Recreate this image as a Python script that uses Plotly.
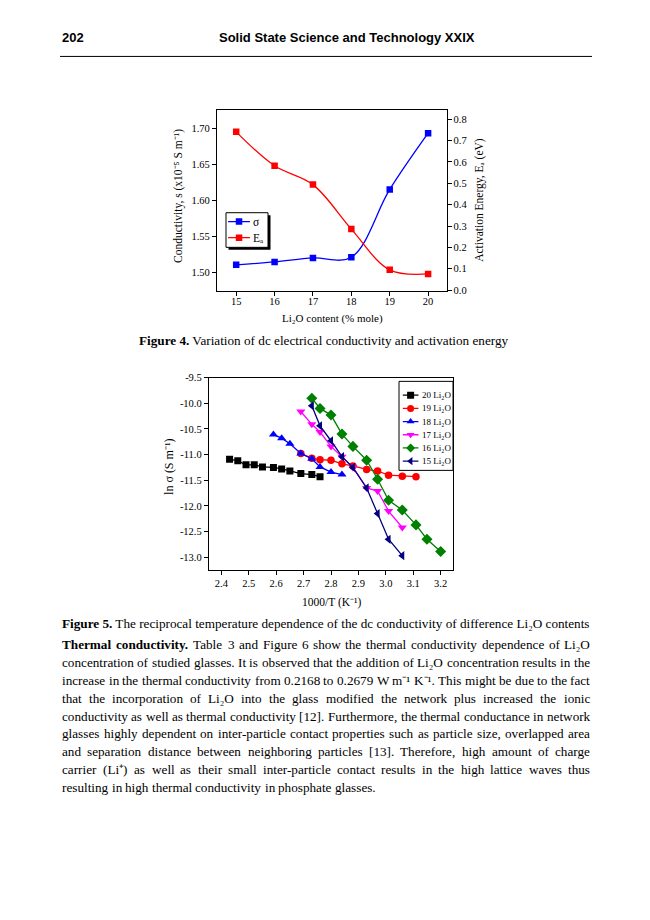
import re
import plotly.graph_objects as go

W, H = 650, 920

# ---------------- Figure 4 data ----------------
li2o_mole = [15, 16, 17, 18, 19, 20]
sigma_dc = [1.511, 1.515, 1.5205, 1.5215, 1.6155, 1.6935]      # x10^-5 S m^-1
act_energy = [0.741, 0.582, 0.494, 0.286, 0.095, 0.076]         # eV
fig4_x_ticks = [15, 16, 17, 18, 19, 20]
fig4_sigma_ticks = [1.50, 1.55, 1.60, 1.65, 1.70]
fig4_ea_ticks = [0.0, 0.1, 0.2, 0.3, 0.4, 0.5, 0.6, 0.7, 0.8]
fig4_legend = ["σ", "Eₐ"]

# ---------------- Figure 5 data ----------------
series_names = ["20 Li₂O", "19 Li₂O", "18 Li₂O", "17 Li₂O", "16 Li₂O", "15 Li₂O"]
inv_T_20 = [2.43, 2.46, 2.49, 2.52, 2.55, 2.59, 2.62, 2.65, 2.69, 2.73, 2.76]
ln_sig_20 = [-11.09, -11.12, -11.20, -11.20, -11.24, -11.25, -11.28, -11.32, -11.37, -11.39, -11.43]
inv_T_19 = [2.69, 2.73, 2.76, 2.80, 2.84, 2.88, 2.93, 2.97, 3.01, 3.06, 3.11]
ln_sig_19 = [-10.98, -11.07, -11.10, -11.11, -11.18, -11.22, -11.29, -11.32, -11.40, -11.42, -11.43]
inv_T_18 = [2.59, 2.62, 2.65, 2.69, 2.73, 2.76, 2.80, 2.84]
ln_sig_18 = [-10.61, -10.68, -10.79, -10.98, -11.08, -11.24, -11.34, -11.39]
inv_T_17 = [2.69, 2.73, 2.76, 2.80, 2.84, 2.88, 2.93, 2.97, 3.01, 3.06]
ln_sig_17 = [-10.16, -10.41, -10.56, -10.84, -11.04, -11.25, -11.65, -11.71, -12.10, -12.42]
inv_T_16 = [2.73, 2.76, 2.80, 2.84, 2.88, 2.93, 2.97, 3.01, 3.06, 3.11, 3.15, 3.20]
ln_sig_16 = [-9.90, -10.10, -10.23, -10.60, -10.84, -11.11, -11.48, -11.89, -12.08, -12.37, -12.65, -12.89]
inv_T_15 = [2.73, 2.76, 2.80, 2.84, 2.88, 2.93, 2.97, 3.01, 3.06]
ln_sig_15 = [-10.05, -10.44, -10.73, -11.04, -11.25, -11.65, -12.15, -12.65, -12.97]
fig5_x_ticks = [2.4, 2.5, 2.6, 2.7, 2.8, 2.9, 3.0, 3.1, 3.2]
fig5_y_ticks = [-13.0, -12.5, -12.0, -11.5, -11.0, -10.5, -10.0, -9.5]

# ---------------- page text ----------------
header_page = "202"
header_title = "Solid State Science and Technology XXIX"
caption4 = "<b>Figure 4.</b> Variation of dc electrical conductivity and activation energy"
caption5 = ("<b>Figure 5.</b> The reciprocal temperature dependence of the dc conductivity "
            "of difference Li₂O contents")
body_lines = [
    "<b>Thermal</b> <b>conductivity.</b> Table 3 and Figure 6 show the thermal conductivity dependence of Li₂O",
    "concentration of studied glasses. It is observed that the addition of Li₂O concentration results in the",
    "increase in the thermal conductivity from 0.2168 to 0.2679 W m⁻¹ K⁻¹. This might be due to the fact",
    "that the incorporation of Li₂O into the glass modified the network plus increased the ionic",
    "conductivity as well as thermal conductivity [12]. Furthermore, the thermal conductance in network",
    "glasses highly dependent on inter-particle contact properties such as particle size, overlapped area",
    "and separation distance between neighboring particles [13]. Therefore, high amount of charge",
    "carrier (Li⁺) as well as their small inter-particle contact results in the high lattice waves thus",
    "resulting in high thermal conductivity in phosphate glasses.",
]

# ---------------- styles ----------------
SERIF = "Liberation Serif, Times New Roman, serif"
SANS = "Liberation Sans, Arial, sans-serif"
BLUE, RED = "#0000FF", "#FF0000"
fig5_colors = ["#000000", "#FF0000", "#0000FF", "#FF00FF", "#008000", "#000080"]
fig5_symbols = ["square", "circle", "triangle-up", "triangle-down", "diamond", "triangle-left"]
fig5_sizes = [7, 7.5, 8, 8, 8.5, 8]


def px(x):
    return x / W


def py(y):
    return 1 - y / H


TR = {' ': 250, 'a': 444, 'b': 500, 'c': 444, 'd': 500, 'e': 444, 'f': 333, 'g': 500, 'h': 500,
      'i': 278, 'j': 278, 'k': 500, 'l': 278, 'm': 778, 'n': 500, 'o': 500, 'p': 500, 'q': 500,
      'r': 333, 's': 389, 't': 278, 'u': 500, 'v': 500, 'w': 722, 'x': 500, 'y': 500, 'z': 444,
      'A': 722, 'B': 667, 'C': 667, 'D': 722, 'E': 611, 'F': 556, 'G': 722, 'H': 722, 'I': 333,
      'J': 389, 'K': 722, 'L': 611, 'M': 889, 'N': 722, 'O': 722, 'P': 556, 'Q': 722, 'R': 667,
      'S': 556, 'T': 611, 'U': 722, 'V': 722, 'W': 944, 'X': 722, 'Y': 722, 'Z': 611,
      '.': 250, ',': 250, '-': 333, '(': 333, ')': 333, '[': 333, ']': 333, '+': 564, '%': 833,
      '/': 278, ':': 278, ';': 278, '₂': 350, '⁻': 300, '¹': 300, '⁺': 390}
TB = {' ': 250, 'a': 500, 'b': 556, 'c': 444, 'd': 556, 'e': 444, 'f': 333, 'g': 500, 'h': 556,
      'i': 278, 'j': 333, 'k': 556, 'l': 278, 'm': 833, 'n': 556, 'o': 500, 'p': 556, 'q': 556,
      'r': 444, 's': 389, 't': 333, 'u': 556, 'v': 500, 'w': 722, 'x': 500, 'y': 500, 'z': 444,
      'T': 667, 'F': 611, '.': 250}


def text_width(s, size):
    total, bold = 0.0, False
    for tok in re.split(r'(<[^>]+>)', s):
        if not tok:
            continue
        if tok.startswith('<'):
            t = tok.lower()
            if t == '<b>':
                bold = True
            elif t == '</b>':
                bold = False
            continue
        table = TB if bold else TR
        for ch in tok:
            total += table.get(ch, 500)
    return total * size / 1000.0


fig = go.Figure()

# ---------------- Figure 4 traces ----------------
fig.add_trace(go.Scatter(x=li2o_mole, y=sigma_dc, mode="lines+markers", xaxis="x", yaxis="y",
                         line=dict(color=BLUE, width=1.3, shape="spline"),
                         marker=dict(symbol="square", size=6.5, color=BLUE), showlegend=False))
fig.add_trace(go.Scatter(x=li2o_mole, y=act_energy, mode="lines+markers", xaxis="x", yaxis="y2",
                         line=dict(color=RED, width=1.3, shape="spline"),
                         marker=dict(symbol="square", size=6.5, color=RED), showlegend=False))

# ---------------- Figure 5 traces ----------------
fig5_x = [inv_T_20, inv_T_19, inv_T_18, inv_T_17, inv_T_16, inv_T_15]
fig5_y = [ln_sig_20, ln_sig_19, ln_sig_18, ln_sig_17, ln_sig_16, ln_sig_15]
for xs, ys, c, s, sz in zip(fig5_x, fig5_y, fig5_colors, fig5_symbols, fig5_sizes):
    fig.add_trace(go.Scatter(x=xs, y=ys, mode="lines+markers", xaxis="x3", yaxis="y3",
                             line=dict(color=c, width=1.3),
                             marker=dict(symbol=s, size=sz, color=c), showlegend=False))

# ---------------- hand-made legends (keys on hidden axes) ----------------
shapes = []
annotations = []

# legend of figure 4
L4 = dict(x0=226, x1=268, y0=210, y1=245)
shapes.append(dict(type="rect", xref="paper", yref="paper", layer="below",
                   x0=px(L4["x0"] + 2.5), x1=px(L4["x1"] + 2.5), y0=py(L4["y1"] + 2.5), y1=py(L4["y0"] + 2.5),
                   fillcolor="black", line=dict(width=0)))
shapes.append(dict(type="rect", xref="paper", yref="paper", layer="below",
                   x0=px(L4["x0"]), x1=px(L4["x1"]), y0=py(L4["y1"]), y1=py(L4["y0"]),
                   fillcolor="white", line=dict(color="black", width=1)))
for i, (name, c) in enumerate(zip(fig4_legend, [BLUE, RED])):
    fig.add_trace(go.Scatter(x=[0.05, 0.57], y=[i, i], mode="lines", xaxis="x4", yaxis="y4",
                             line=dict(color=c, width=1.3), showlegend=False, hoverinfo="skip"))
    fig.add_trace(go.Scatter(x=[0.31], y=[i], mode="markers", xaxis="x4", yaxis="y4",
                             marker=dict(symbol="square", size=6.5, color=c), showlegend=False, hoverinfo="skip"))
    annotations.append(dict(x=0.63, y=i, xref="x4", yref="y4", text=name, showarrow=False,
                            xanchor="left", yanchor="middle", borderpad=0,
                            font=dict(family=SERIF, size=11.5, color="black")))

# legend of figure 5
L5 = dict(x0=399, x1=453, y0=380.5, y1=470.5)
shapes.append(dict(type="rect", xref="paper", yref="paper", layer="below",
                   x0=px(L5["x0"]), x1=px(L5["x1"]), y0=py(L5["y1"]), y1=py(L5["y0"]),
                   fillcolor="white", line=dict(color="black", width=1)))
for i, (name, c, s) in enumerate(zip(series_names, fig5_colors, fig5_symbols)):
    fig.add_trace(go.Scatter(x=[0.07, 0.36], y=[i, i], mode="lines", xaxis="x5", yaxis="y5",
                             line=dict(color=c, width=1.3), showlegend=False, hoverinfo="skip"))
    fig.add_trace(go.Scatter(x=[0.215], y=[i], mode="markers", xaxis="x5", yaxis="y5",
                             marker=dict(symbol=s, size=7, color=c), showlegend=False, hoverinfo="skip"))
    annotations.append(dict(x=0.41, y=i, xref="x5", yref="y5", text=name, showarrow=False,
                            xanchor="left", yanchor="middle", borderpad=0,
                            font=dict(family=SERIF, size=9, color="black")))

# ---------------- axes ----------------
tick_font = dict(family=SERIF, size=10.5, color="black")
common = dict(showgrid=False, zeroline=False, showline=True, linecolor="black", linewidth=1.3,
              ticks="outside", ticklen=4, tickwidth=1.2, tickcolor="black", tickfont=tick_font)

hidden = dict(visible=False, fixedrange=True, showgrid=False, zeroline=False)

fig.update_layout(
    width=W, height=H, autosize=False,
    margin=dict(l=0, r=0, t=0, b=0),
    paper_bgcolor="white", plot_bgcolor="rgba(0,0,0,0)",
    showlegend=False,
    xaxis=dict(domain=[px(217), px(447.3)], range=[14.5, 20.5], anchor="y", mirror=True,
               tickvals=fig4_x_ticks, ticktext=[str(v) for v in fig4_x_ticks],
               ticklabelstandoff=-4, **common),
    yaxis=dict(domain=[py(289.3), py(106.3)], range=[1.4745, 1.7254], anchor="x",
               tickvals=fig4_sigma_ticks, ticktext=["%.2f" % v for v in fig4_sigma_ticks], **common),
    yaxis2=dict(overlaying="y", side="right", anchor="x", range=[-0.0046, 0.8426],
                tickvals=fig4_ea_ticks, ticktext=["%.1f" % v for v in fig4_ea_ticks],
                ticklabelstandoff=-1, **common),
    xaxis3=dict(domain=[px(209), px(453)], range=[2.355, 3.245], anchor="y3", mirror=True,
                tickvals=fig5_x_ticks, ticktext=["%.1f" % v for v in fig5_x_ticks],
                ticklabelstandoff=-1, **common),
    yaxis3=dict(domain=[py(571), py(376.7)], range=[-13.245, -9.4995], anchor="x3", mirror=True,
                tickvals=fig5_y_ticks, ticktext=["%.1f" % v for v in fig5_y_ticks], **common),
    xaxis4=dict(domain=[px(L4["x0"]), px(L4["x1"])], range=[0, 1], anchor="y4", **hidden),
    yaxis4=dict(domain=[py(L4["y1"]), py(L4["y0"])], range=[1.6, -0.55], anchor="x4", **hidden),
    xaxis5=dict(domain=[px(L5["x0"]), px(L5["x1"])], range=[0, 1], anchor="y5", **hidden),
    yaxis5=dict(domain=[py(L5["y1"]), py(L5["y0"])], range=[5.7, -1.05], anchor="x5", **hidden),
)

# ---------------- axis titles ----------------
def page_text(x, y, text, size, family=SERIF, xanchor="center", angle=0):
    annotations.append(dict(x=px(x), y=py(y), xref="paper", yref="paper", text=text,
                            showarrow=False, xanchor=xanchor, yanchor="middle", textangle=angle,
                            borderpad=0, borderwidth=0,
                            font=dict(family=family, size=size, color="black")))


page_text(332, 317, "Li₂O content (% mole)", 11)
page_text(179, 193, "Conductivity, s (x10⁻⁵ S m⁻¹)", 11.5, angle=-90)
page_text(480, 197, "Activation Energy, Eₐ (eV)", 11.5, angle=-90)
page_text(331, 604, "1000/T (K⁻¹)", 11.5)
page_text(169, 467, "ln σ (S m⁻¹)", 12, angle=-90)

# ---------------- header, captions, body ----------------
page_text(62, 33, "<b>" + header_page + "</b>", 13, family=SANS, xanchor="left")
page_text(347, 33, "<b>" + header_title + "</b>", 13, family=SANS)
shapes.append(dict(type="line", xref="paper", yref="paper", x0=px(60), x1=px(592), y0=py(52), y1=py(52),
                   line=dict(color="black", width=1)))

BODY_SIZE = 13.2
page_text(324, 339, caption4, BODY_SIZE)
page_text(326, 625, caption5, BODY_SIZE)

BODY_LEFT, BODY_RIGHT, BODY_TOP, BODY_LEAD = 62, 590, 647, 18
for i, line in enumerate(body_lines):
    words = line.split(" ")
    widths = [text_width(w, BODY_SIZE) for w in words]
    if i < len(body_lines) - 1 and len(words) > 1:
        gap = (BODY_RIGHT - BODY_LEFT - sum(widths)) / (len(words) - 1)
    else:
        gap = text_width(" ", BODY_SIZE)
    x = BODY_LEFT
    for w, wd in zip(words, widths):
        page_text(x, BODY_TOP + i * BODY_LEAD, w, BODY_SIZE, xanchor="left")
        x += wd + gap

fig.update_layout(shapes=shapes, annotations=annotations)
fig.write_html("out.html", config={"displayModeBar": False},
               post_script="document.body.style.margin='0';document.body.style.overflow='hidden';")
